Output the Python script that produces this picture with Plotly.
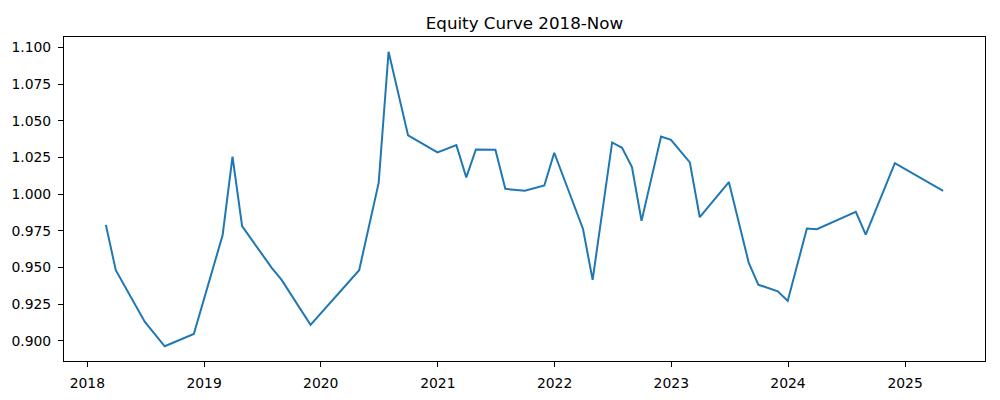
import pandas as pd
import plotly.graph_objects as go

# month-end dates and equity values
dates = [
    "2018-02-28", "2018-03-31", "2018-06-30", "2018-08-31", "2018-11-30",
    "2019-02-28", "2019-03-31", "2019-04-30", "2019-07-31", "2019-08-31",
    "2019-11-30", "2020-04-30", "2020-06-30", "2020-07-31", "2020-09-30",
    "2020-12-31", "2021-02-28", "2021-03-31", "2021-04-30", "2021-06-30",
    "2021-07-31", "2021-09-30", "2021-11-30", "2021-12-31", "2022-03-31",
    "2022-04-30", "2022-06-30", "2022-07-31", "2022-08-31", "2022-09-30",
    "2022-11-30", "2022-12-31", "2023-02-28", "2023-03-31", "2023-06-30",
    "2023-08-31", "2023-09-30", "2023-11-30", "2023-12-31", "2024-02-29",
    "2024-03-31", "2024-07-31", "2024-08-31", "2024-11-30", "2025-04-30",
]
equity = [
    0.9791, 0.9482, 0.9130, 0.8964, 0.9048,
    0.9720, 1.0255, 0.9782, 0.9500, 0.9418,
    0.9110, 0.9482, 1.0077, 1.0970, 1.0400,
    1.0284, 1.0334, 1.0114, 1.0304, 1.0302,
    1.0036, 1.0023, 1.0059, 1.0282, 0.9763,
    0.9416, 1.0352, 1.0316, 1.0184, 0.9818,
    1.0393, 1.0370, 1.0216, 0.9843, 1.0082,
    0.9534, 0.9384, 0.9338, 0.9273, 0.9766,
    0.9761, 0.9879, 0.9725, 1.0211, 1.0023,
]
year_ticks = ["2018", "2019", "2020", "2021", "2022", "2023", "2024", "2025"]
y_ticks = [0.900, 0.925, 0.950, 0.975, 1.000, 1.025, 1.050, 1.075, 1.100]

x = pd.to_datetime(dates)

# matplotlib-style 5% margins
xspan = x.max() - x.min()
xr = [x.min() - xspan * 0.05, x.max() + xspan * 0.05]
yspan = max(equity) - min(equity)
yr = [min(equity) - yspan * 0.05, max(equity) + yspan * 0.05]

fig = go.Figure()
fig.add_trace(go.Scatter(x=x, y=equity, mode="lines",
                         line=dict(color="#1f77b4", width=2)))

axis_style = dict(showline=True, linecolor="black", linewidth=1, mirror=True,
                  ticks="outside", ticklen=5, tickwidth=1, tickcolor="black",
                  showgrid=False, zeroline=False, automargin=False,
                  tickfont=dict(family="DejaVu Sans", size=13.9, color="black"))

fig.update_xaxes(range=xr, tickvals=pd.to_datetime([y + "-01-01" for y in year_ticks]),
                 ticktext=year_ticks, ticklabelstandoff=4, **axis_style)
fig.update_yaxes(range=yr, tickvals=y_ticks, ticktext=[f"{v:.3f}" for v in y_ticks],
                 ticklabelstandoff=4, **axis_style)

fig.update_layout(
    width=1000, height=400,
    margin=dict(l=64, r=15, t=37, b=39),
    paper_bgcolor="white", plot_bgcolor="white",
    showlegend=False,
    title=dict(text="Equity Curve 2018-Now", x=0.5, xref="paper",
               y=1 - 23 / 400, yanchor="middle", automargin=False,
               font=dict(family="DejaVu Sans", size=16.7, color="black")),
)

# drop the default page margin so the figure sits at the window's corner
fig.write_html("out.html", config={"displayModeBar": False},
               post_script="document.body.style.margin='0';")
